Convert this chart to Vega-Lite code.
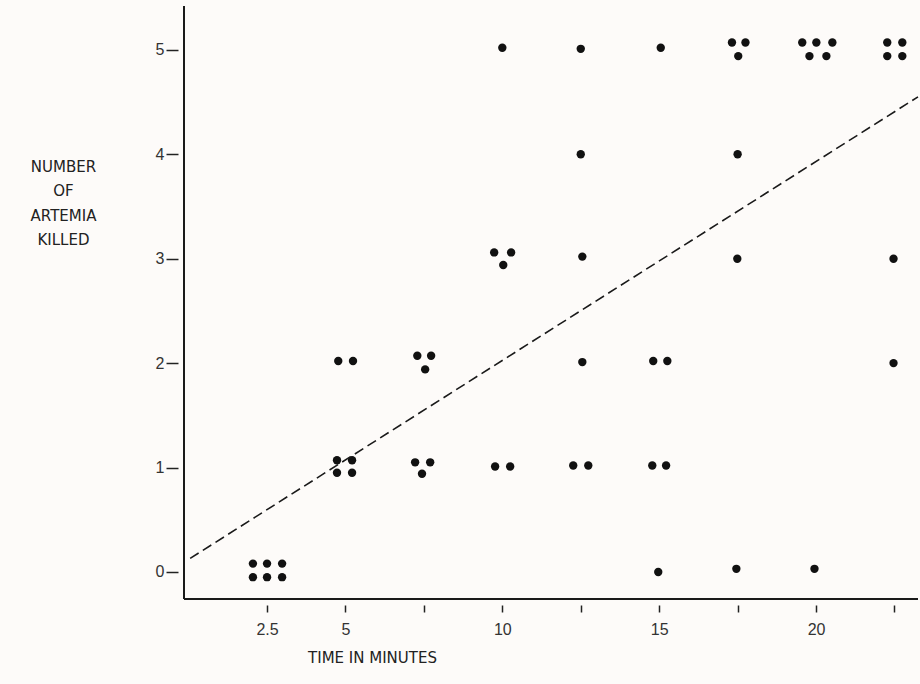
{
  "$schema": "https://vega.github.io/schema/vega-lite/v6.json",
  "autosize": {"type": "none"},
  "padding": {"left": 184, "top": 6, "right": 2, "bottom": 85},
  "width": 734,
  "height": 593,
  "background": "#fdfbf9",
  "config": {
    "view": {"stroke": null},
    "axis": {
      "labelFont": "Liberation Sans", "labelFontSize": 16, "labelColor": "#333",
      "tickColor": "#222", "tickWidth": 1.5, "domain": false, "grid": false,
      "titleFont": "DejaVu Sans", "titleFontSize": 15, "titleFontWeight": "normal", "titleColor": "#222"
    }
  },
  "layer": [
    {
      "data": {"values": [
        {"x": 10.0, "y": 5.02}, {"x": 12.5, "y": 5.01}, {"x": 15.05, "y": 5.02},
        {"x": 17.32, "y": 5.07}, {"x": 17.75, "y": 5.07}, {"x": 17.52, "y": 4.94},
        {"x": 19.56, "y": 5.07}, {"x": 20.01, "y": 5.07}, {"x": 20.52, "y": 5.07}, {"x": 19.79, "y": 4.94}, {"x": 20.33, "y": 4.94},
        {"x": 22.27, "y": 5.07}, {"x": 22.75, "y": 5.07}, {"x": 22.27, "y": 4.94}, {"x": 22.75, "y": 4.94},
        {"x": 12.5, "y": 4.0}, {"x": 17.5, "y": 4.0},
        {"x": 9.74, "y": 3.06}, {"x": 10.28, "y": 3.06}, {"x": 10.03, "y": 2.94},
        {"x": 12.55, "y": 3.02}, {"x": 17.49, "y": 3.0}, {"x": 22.47, "y": 3.0},
        {"x": 4.77, "y": 2.02}, {"x": 5.24, "y": 2.02},
        {"x": 7.29, "y": 2.07}, {"x": 7.73, "y": 2.07}, {"x": 7.54, "y": 1.94},
        {"x": 12.55, "y": 2.01}, {"x": 14.81, "y": 2.02}, {"x": 15.26, "y": 2.02}, {"x": 22.47, "y": 2.0},
        {"x": 4.73, "y": 1.07}, {"x": 5.21, "y": 1.07}, {"x": 4.73, "y": 0.95}, {"x": 5.21, "y": 0.95},
        {"x": 7.22, "y": 1.05}, {"x": 7.7, "y": 1.05}, {"x": 7.44, "y": 0.94},
        {"x": 9.77, "y": 1.01}, {"x": 10.25, "y": 1.01},
        {"x": 12.26, "y": 1.02}, {"x": 12.74, "y": 1.02},
        {"x": 14.78, "y": 1.02}, {"x": 15.22, "y": 1.02},
        {"x": 2.05, "y": 0.08}, {"x": 2.5, "y": 0.08}, {"x": 2.98, "y": 0.08},
        {"x": 2.05, "y": -0.05}, {"x": 2.5, "y": -0.05}, {"x": 2.98, "y": -0.05},
        {"x": 14.97, "y": 0.0}, {"x": 17.46, "y": 0.03}, {"x": 19.95, "y": 0.03}
      ]},
      "mark": {"type": "point", "filled": true, "color": "#111", "opacity": 1, "size": 70},
      "encoding": {
        "x": {
          "field": "x", "type": "quantitative",
          "scale": {"domain": [-0.147, 23.25], "nice": false, "zero": false},
          "axis": {
            "values": [2.5, 5, 7.5, 10, 12.5, 15, 17.5, 20, 22.5],
            "labelExpr": "datum.value == 2.5 ? '2.5' : (datum.value % 5 == 0 ? datum.label : '')",
            "offset": 6, "tickSize": 7, "labelPadding": 9,
            "title": "TIME IN MINUTES", "titleX": 188, "titleY": 52,
            "titleAlign": "center", "titleBaseline": "middle"
          }
        },
        "y": {
          "field": "y", "type": "quantitative",
          "scale": {"domain": [-0.259, 5.42], "nice": false, "zero": false},
          "axis": {
            "values": [0, 1, 2, 3, 4, 5], "format": "d",
            "offset": 6, "tickSize": 12, "labelPadding": 2,
            "title": ["NUMBER", "OF", "ARTEMIA", "KILLED"],
            "titleAngle": 0, "titleAlign": "center", "titleBaseline": "top",
            "titleX": -115, "titleY": 153, "titleLineHeight": 24.5
          }
        }
      }
    },
    {
      "data": {"values": [{"x": 0.05, "y": 0.13}, {"x": 23.25, "y": 4.55}]},
      "mark": {"type": "line", "color": "#1a1a1a", "strokeWidth": 1.6, "strokeDash": [10, 5]},
      "encoding": {
        "x": {"field": "x", "type": "quantitative"},
        "y": {"field": "y", "type": "quantitative"}
      }
    },
    {
      "data": {"values": [{}]},
      "mark": {"type": "rule", "color": "#1a1a1a", "strokeWidth": 2},
      "encoding": {"y": {"datum": -0.259, "type": "quantitative"}}
    },
    {
      "data": {"values": [{}]},
      "mark": {"type": "rule", "color": "#1a1a1a", "strokeWidth": 2},
      "encoding": {"x": {"datum": -0.147, "type": "quantitative"}}
    }
  ]
}
